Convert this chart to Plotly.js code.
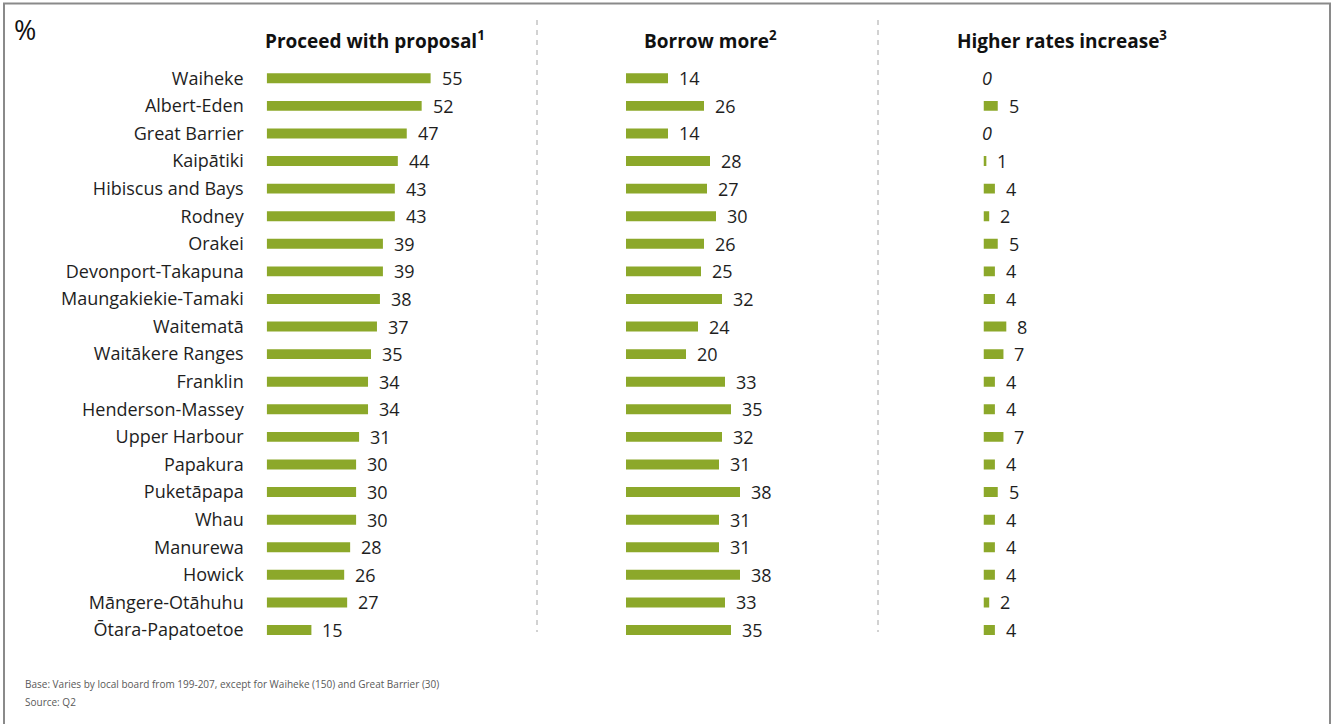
<!DOCTYPE html>
<html>
<head>
<meta charset="utf-8">
<script src="https://cdn.plot.ly/plotly-3.0.1.min.js"></script>
<style>
html,body{margin:0;padding:0;background:#fff;}
#chart{width:1337px;height:724px;}
</style>
</head>
<body>
<div id="chart"></div>
<script>
const categories = ["Waiheke","Albert-Eden","Great Barrier","Kaipātiki","Hibiscus and Bays","Rodney","Orakei","Devonport-Takapuna","Maungakiekie-Tamaki","Waitematā","Waitākere Ranges","Franklin","Henderson-Massey","Upper Harbour","Papakura","Puketāpapa","Whau","Manurewa","Howick","Māngere-Otāhuhu","Ōtara-Papatoetoe"];
const proceedWithProposal = [55,52,47,44,43,43,39,39,38,37,35,34,34,31,30,30,30,28,26,27,15];
const borrowMore = [14,26,14,28,27,30,26,25,32,24,20,33,35,32,31,38,31,31,38,33,35];
const higherRatesIncrease = [0,5,0,1,4,2,5,4,4,8,7,4,4,7,4,5,4,4,4,2,4];
const panelTitles = ["Proceed with proposal<sup>1</sup>","Borrow more<sup>2</sup>","Higher rates increase<sup>3</sup>"];
const unitLabel = "%";
const footnotes = ["Base: Varies by local board from 199-207, except for Waiheke (150) and Great Barrier (30)","Source: Q2"];

const W = 1337, H = 724;
const px = v => v / W;
const py = v => (H - v) / H;
const GREEN = "#8CA82A";
const FONT = "Open Sans, sans-serif";
const TXT = "#1e1e1e";

const series = [proceedWithProposal, borrowMore, higherRatesIncrease];
const axNames = ["x","x2","x3"];
const starts = [266.7, 626, 983.5];
const scales = [2.98, 3.0, 2.85];
const RANGE = 60;

const traces = series.map((vals, i) => ({
  type: "bar",
  orientation: "h",
  x: vals,
  y: categories,
  xaxis: axNames[i],
  yaxis: "y",
  width: 0.36,
  marker: {color: GREEN, line: {width: 0}},
  hoverinfo: "x+y",
  showlegend: false
}));

const annotations = [];
series.forEach((vals, i) => {
  vals.forEach((v, j) => {
    annotations.push({
      x: v, y: categories[j], xref: axNames[i], yref: "y",
      xanchor: "left", yanchor: "middle",
      xshift: v === 0 ? -4 : 9,
      text: v === 0 ? "<i>" + v + "</i>" : String(v),
      showarrow: false,
      font: {family: FONT, size: 18, color: TXT}
    });
  });
});
const titleCenters = [375, 710, 1062];
panelTitles.forEach((t, i) => {
  annotations.push({
    x: px(titleCenters[i]), y: py(40), xref: "paper", yref: "paper",
    xanchor: "center", yanchor: "middle", showarrow: false,
    text: "<b>" + t + "</b>",
    font: {family: FONT, size: 19, color: "#111"}
  });
});
annotations.push({
  x: px(12), y: py(30), xref: "paper", yref: "paper",
  xanchor: "left", yanchor: "middle", showarrow: false,
  text: unitLabel, font: {family: FONT, size: 27, color: "#111"}
});
footnotes.forEach((t, i) => {
  annotations.push({
    x: px(23), y: py(684 + i * 18), xref: "paper", yref: "paper",
    xanchor: "left", yanchor: "middle", showarrow: false,
    text: t, font: {family: FONT, size: 10, color: "#595959"}
  });
});

const shapes = [
  {type: "rect", xref: "paper", yref: "paper", x0: px(4), x1: px(1330), y0: -0.1, y1: py(3.5),
   line: {color: "#8a8a8a", width: 2}, fillcolor: "rgba(0,0,0,0)"},
  {type: "line", xref: "paper", yref: "paper", x0: px(537), x1: px(537), y0: py(20), y1: py(632),
   line: {color: "#c4c4c4", width: 1.5, dash: "5px,5px"}},
  {type: "line", xref: "paper", yref: "paper", x0: px(878), x1: px(878), y0: py(20), y1: py(632),
   line: {color: "#c4c4c4", width: 1.5, dash: "5px,5px"}}
];

const rowTop = 78.3, rowBottom = 630;
const step = (rowBottom - rowTop) / (categories.length - 1);
const yTopPx = rowTop - step / 2, yBotPx = rowBottom + step / 2;

const layout = {
  width: W, height: H,
  margin: {l: 0, r: 0, t: 0, b: 0},
  paper_bgcolor: "#fff", plot_bgcolor: "rgba(0,0,0,0)",
  showlegend: false,
  yaxis: {
    type: "category", autorange: false, range: [categories.length - 0.5, -0.5],
    domain: [py(yBotPx), py(yTopPx)], anchor: "x",
    showgrid: false, zeroline: false, showline: false, ticks: "",
    ticklabelstandoff: 22,
    tickfont: {family: FONT, size: 18, color: TXT}
  },
  annotations: annotations,
  shapes: shapes
};
axNames.forEach((a, i) => {
  const key = a === "x" ? "xaxis" : "xaxis" + a.slice(1);
  layout[key] = {
    domain: [px(starts[i]), px(starts[i] + scales[i] * RANGE)],
    range: [0, RANGE], autorange: false, visible: false, anchor: "y",
    showgrid: false, zeroline: false, fixedrange: true
  };
});

Plotly.newPlot("chart", traces, layout, {displayModeBar: false, staticPlot: true});
</script>
</body>
</html>
